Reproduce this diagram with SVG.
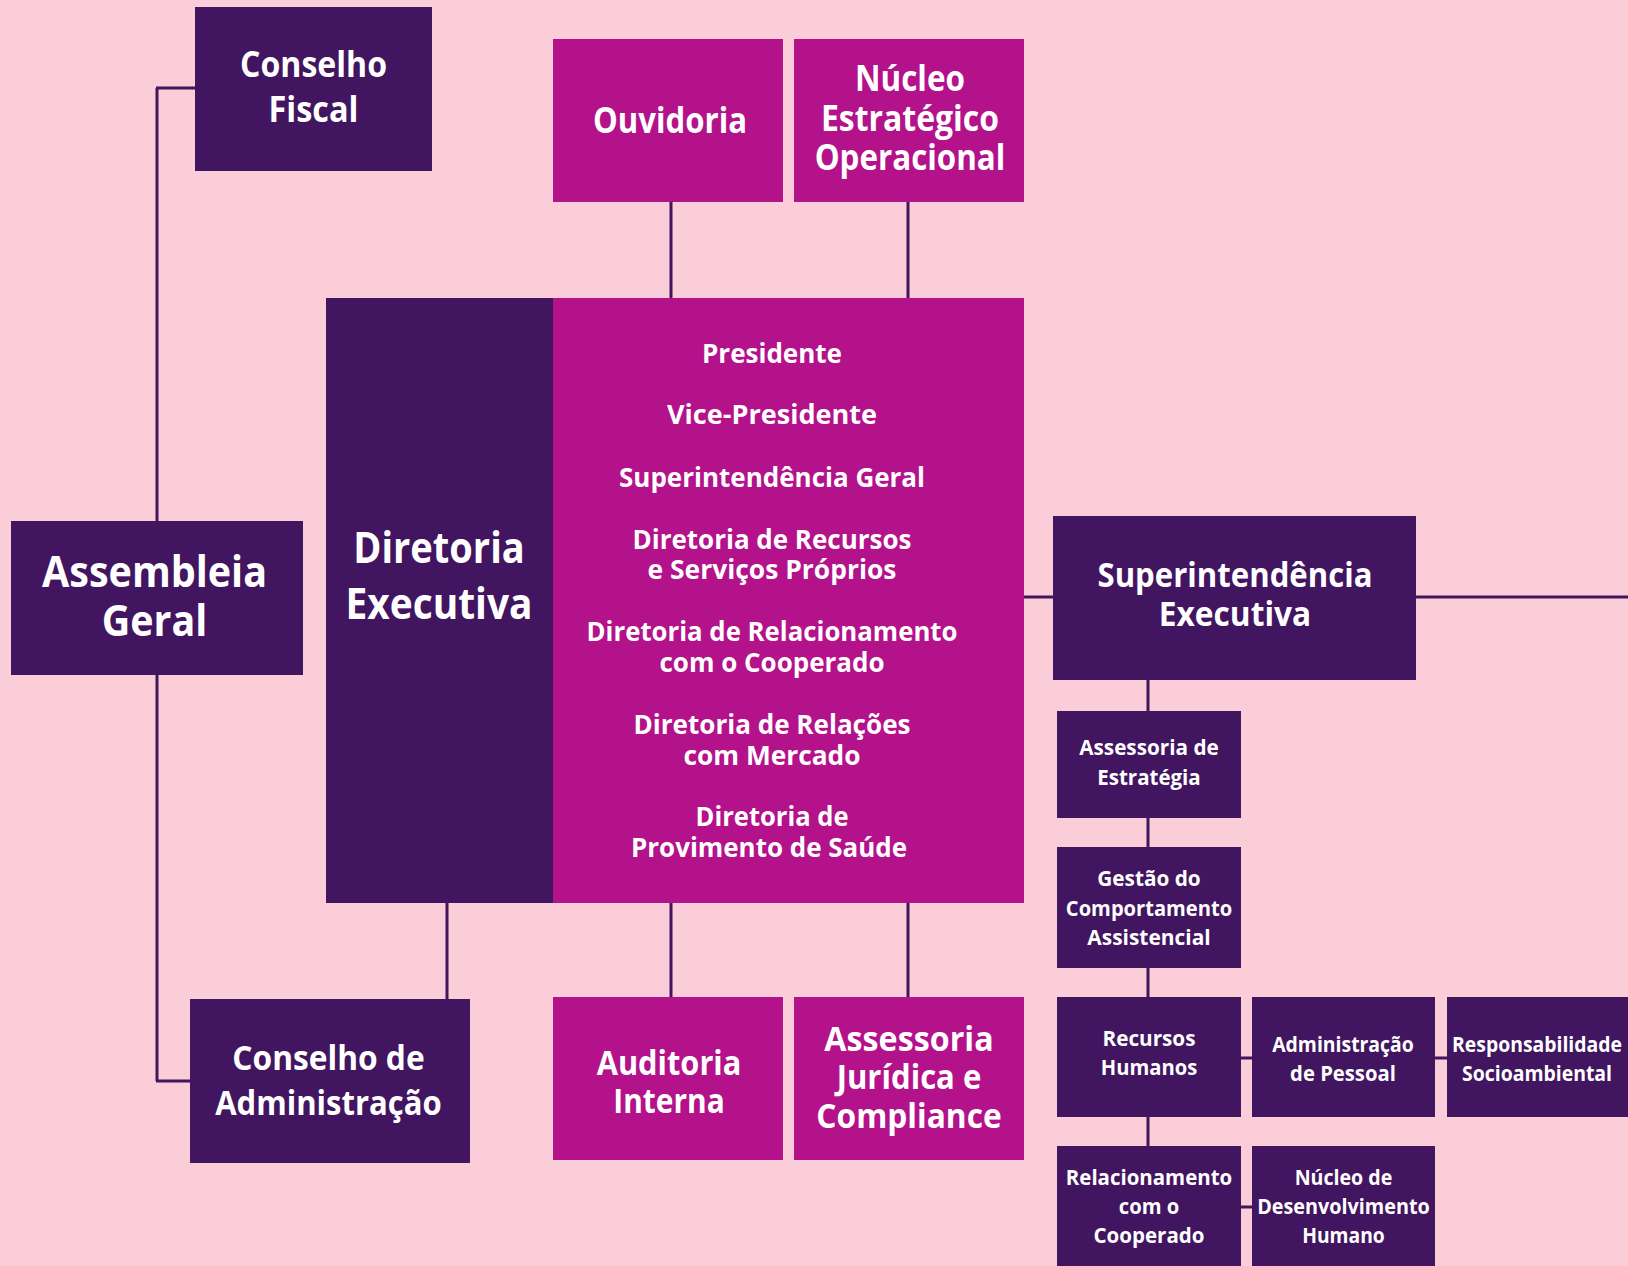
<svg xmlns="http://www.w3.org/2000/svg" width="1628" height="1266" viewBox="0 0 1628 1266">
<style>
.dk{fill:#421561}
.mg{fill:#B3128B}
.t{fill:#ffffff;font-family:"Open Sans","Noto Sans","Liberation Sans",sans-serif;font-weight:700;text-anchor:middle}
.xl{font-size:43px}
.l{font-size:35px}
.m{font-size:34px}
.d{font-size:26px}
.s{font-size:22px}
.c{stroke:#421561;stroke-width:3;fill:none}
</style>
<rect width="1628" height="1266" fill="#FACDD9"/>
<g id="connectors">
<path class="c" d="M157 88V1081"/>
<path class="c" d="M156 88H195"/>
<path class="c" d="M156 1081H190"/>
<path class="c" d="M671 201V298"/>
<path class="c" d="M908 201V298"/>
<path class="c" d="M447 903V999"/>
<path class="c" d="M671 903V997"/>
<path class="c" d="M908 903V997"/>
<path class="c" d="M1024 597H1628"/>
<path class="c" d="M1148 680V1146"/>
<path class="c" d="M1241 1058H1447"/>
<path class="c" d="M1241 1207H1252"/>
</g>
<g id="conselho-fiscal">
<rect class="dk" x="195" y="7" width="237" height="164"/>
<text class="t l" x="313.5" y="76.7" textLength="147" lengthAdjust="spacingAndGlyphs">Conselho</text>
<text class="t l" x="313.5" y="122" textLength="90" lengthAdjust="spacingAndGlyphs">Fiscal</text>
</g>
<g id="ouvidoria">
<rect class="mg" x="553" y="39" width="230" height="163"/>
<text class="t l" x="670" y="132.7" textLength="154" lengthAdjust="spacingAndGlyphs">Ouvidoria</text>
</g>
<g id="nucleo-estrategico">
<rect class="mg" x="794" y="39" width="230" height="163"/>
<text class="t l" x="910" y="91" textLength="110" lengthAdjust="spacingAndGlyphs">Núcleo</text>
<text class="t l" x="910" y="131" textLength="178" lengthAdjust="spacingAndGlyphs">Estratégico</text>
<text class="t l" x="910" y="170" textLength="190.7" lengthAdjust="spacingAndGlyphs">Operacional</text>
</g>
<g id="assembleia-geral">
<rect class="dk" x="11" y="521" width="292" height="154"/>
<text class="t xl" x="154.5" y="587.3" textLength="225" lengthAdjust="spacingAndGlyphs">Assembleia</text>
<text class="t xl" x="154.5" y="636" textLength="105.6" lengthAdjust="spacingAndGlyphs">Geral</text>
</g>
<g id="diretoria-executiva">
<rect class="dk" x="326" y="298" width="228" height="605"/>
<rect class="mg" x="553" y="298" width="471" height="605"/>
<text class="t xl" x="439" y="563.3" textLength="171.5" lengthAdjust="spacingAndGlyphs">Diretoria</text>
<text class="t xl" x="439" y="619.3" textLength="187" lengthAdjust="spacingAndGlyphs">Executiva</text>
<text class="t d" x="772" y="363.2" textLength="140" lengthAdjust="spacingAndGlyphs">Presidente</text>
<text class="t d" x="772" y="424.4" textLength="210" lengthAdjust="spacingAndGlyphs">Vice-Presidente</text>
<text class="t d" x="772" y="486.5" textLength="306" lengthAdjust="spacingAndGlyphs">Superintendência Geral</text>
<text class="t d" x="772" y="549" textLength="279" lengthAdjust="spacingAndGlyphs">Diretoria de Recursos</text>
<text class="t d" x="772" y="578.6" textLength="249" lengthAdjust="spacingAndGlyphs">e Serviços Próprios</text>
<text class="t d" x="772" y="640.7" textLength="371" lengthAdjust="spacingAndGlyphs">Diretoria de Relacionamento</text>
<text class="t d" x="772" y="672.4" textLength="225" lengthAdjust="spacingAndGlyphs">com o Cooperado</text>
<text class="t d" x="772" y="733.6" textLength="277" lengthAdjust="spacingAndGlyphs">Diretoria de Relações</text>
<text class="t d" x="772" y="764.5" textLength="177" lengthAdjust="spacingAndGlyphs">com Mercado</text>
<text class="t d" x="772" y="825.8" textLength="153" lengthAdjust="spacingAndGlyphs">Diretoria de</text>
<text class="t d" x="769" y="856.6" textLength="276" lengthAdjust="spacingAndGlyphs">Provimento de Saúde</text>
</g>
<g id="superintendencia-executiva">
<rect class="dk" x="1053" y="516" width="363" height="164"/>
<text class="t m" x="1235" y="587.3" textLength="275" lengthAdjust="spacingAndGlyphs">Superintendência</text>
<text class="t m" x="1235" y="626" textLength="152.4" lengthAdjust="spacingAndGlyphs">Executiva</text>
</g>
<g id="assessoria-estrategia">
<rect class="dk" x="1057" y="711" width="184" height="107"/>
<text class="t s" x="1149" y="755.3" textLength="139.5" lengthAdjust="spacingAndGlyphs">Assessoria de</text>
<text class="t s" x="1149" y="785" textLength="103.5" lengthAdjust="spacingAndGlyphs">Estratégia</text>
</g>
<g id="gestao-comportamento">
<rect class="dk" x="1057" y="847" width="184" height="121"/>
<text class="t s" x="1149" y="886" textLength="103.5" lengthAdjust="spacingAndGlyphs">Gestão do</text>
<text class="t s" x="1149" y="915.7" textLength="166.3" lengthAdjust="spacingAndGlyphs">Comportamento</text>
<text class="t s" x="1149" y="945.3" textLength="123.4" lengthAdjust="spacingAndGlyphs">Assistencial</text>
</g>
<g id="recursos-humanos">
<rect class="dk" x="1057" y="997" width="184" height="120"/>
<text class="t s" x="1149" y="1046" textLength="93" lengthAdjust="spacingAndGlyphs">Recursos</text>
<text class="t s" x="1149" y="1075" textLength="96.5" lengthAdjust="spacingAndGlyphs">Humanos</text>
</g>
<g id="administracao-pessoal">
<rect class="dk" x="1252" y="997" width="183" height="120"/>
<text class="t s" x="1343" y="1051.7" textLength="141.6" lengthAdjust="spacingAndGlyphs">Administração</text>
<text class="t s" x="1343" y="1080.7" textLength="105.8" lengthAdjust="spacingAndGlyphs">de Pessoal</text>
</g>
<g id="responsabilidade-socioambiental">
<rect class="dk" x="1447" y="997" width="181" height="120"/>
<text class="t s" x="1537" y="1051.7" textLength="170" lengthAdjust="spacingAndGlyphs">Responsabilidade</text>
<text class="t s" x="1537" y="1080.7" textLength="150" lengthAdjust="spacingAndGlyphs">Socioambiental</text>
</g>
<g id="relacionamento-cooperado">
<rect class="dk" x="1057" y="1146" width="184" height="120"/>
<text class="t s" x="1149" y="1185" textLength="166.3" lengthAdjust="spacingAndGlyphs">Relacionamento</text>
<text class="t s" x="1149" y="1214" textLength="60.5" lengthAdjust="spacingAndGlyphs">com o</text>
<text class="t s" x="1149" y="1243.3" textLength="111" lengthAdjust="spacingAndGlyphs">Cooperado</text>
</g>
<g id="nucleo-desenvolvimento">
<rect class="dk" x="1252" y="1146" width="183" height="120"/>
<text class="t s" x="1343.5" y="1185" textLength="97.7" lengthAdjust="spacingAndGlyphs">Núcleo de</text>
<text class="t s" x="1343.5" y="1214" textLength="172.6" lengthAdjust="spacingAndGlyphs">Desenvolvimento</text>
<text class="t s" x="1343.5" y="1243.3" textLength="82.6" lengthAdjust="spacingAndGlyphs">Humano</text>
</g>
<g id="conselho-administracao">
<rect class="dk" x="190" y="999" width="280" height="164"/>
<text class="t m" x="328.5" y="1070" textLength="192.3" lengthAdjust="spacingAndGlyphs">Conselho de</text>
<text class="t m" x="328.5" y="1115" textLength="226.7" lengthAdjust="spacingAndGlyphs">Administração</text>
</g>
<g id="auditoria-interna">
<rect class="mg" x="553" y="997" width="230" height="163"/>
<text class="t m" x="669" y="1075" textLength="144.7" lengthAdjust="spacingAndGlyphs">Auditoria</text>
<text class="t m" x="669" y="1113.3" textLength="111.4" lengthAdjust="spacingAndGlyphs">Interna</text>
</g>
<g id="assessoria-juridica">
<rect class="mg" x="794" y="997" width="230" height="163"/>
<text class="t m" x="909" y="1050.7" textLength="169.4" lengthAdjust="spacingAndGlyphs">Assessoria</text>
<text class="t m" x="909" y="1089" textLength="144.7" lengthAdjust="spacingAndGlyphs">Jurídica e</text>
<text class="t m" x="909" y="1128.3" textLength="185.4" lengthAdjust="spacingAndGlyphs">Compliance</text>
</g>
</svg>
